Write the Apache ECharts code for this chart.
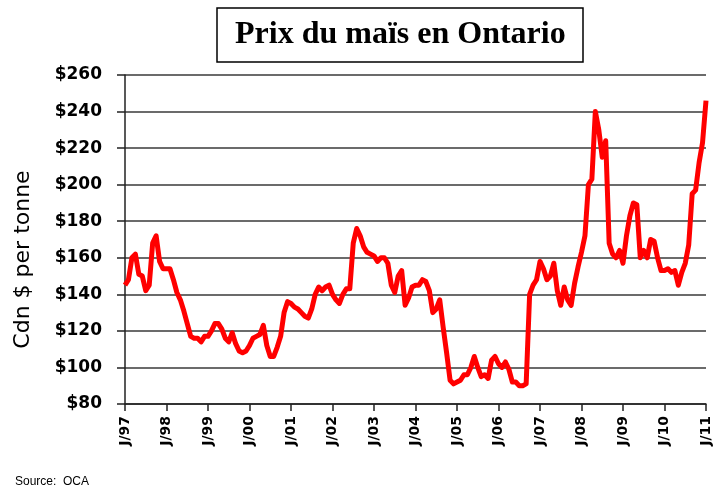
<!DOCTYPE html>
<html>
<head>
<meta charset="utf-8">
<script src="https://cdn.jsdelivr.net/npm/echarts@6/dist/echarts.min.js"></script>
<style>
  html, body { margin: 0; padding: 0; background: #fff; }
  #chart { width: 714px; height: 487px; }
</style>
</head>
<body>
<div id="chart"></div>
<script>
// années affichées sur l'axe des x (un repère par janvier)
var yearLabels = ["97", "98", "99", "00", "01", "02", "03", "04", "05", "06", "07", "08", "09", "10", "11"];
var monthLetters = ["J", "F", "M", "A", "M", "J", "J", "A", "S", "O", "N", "D"];
var yTicks = [80, 100, 120, 140, 160, 180, 200, 220, 240, 260];

// prix mensuel du maïs, $ Cdn par tonne, janv. 1997 -> janv. 2011
var prices = [
  145, 148, 160, 162, 151, 150, 142, 145, 168, 172, 158, 154,
  154, 154, 148, 141, 137, 131, 124, 117, 116, 116, 114, 117,
  117, 120, 124, 124, 121, 116, 114, 119, 113, 109, 108, 109,
  112, 116, 117, 118, 123, 112, 106, 106, 111, 117, 130, 136,
  135, 133, 132, 130, 128, 127, 132, 140, 144, 142, 144, 145,
  140, 137, 135, 140, 143, 143, 168, 176, 172, 166, 163, 162,
  161, 158, 160, 160, 157, 145, 141, 150, 153, 134, 138, 144,
  145, 145, 148, 147, 142, 130, 132, 137, 122, 108, 93, 91,
  92, 93, 96, 96, 100, 106, 100, 95, 96, 94, 104, 106,
  102, 100, 103, 99, 92, 92, 90, 90, 91, 140, 145, 148,
  158, 154, 148, 150, 157, 142, 134, 144, 137, 134, 146, 155,
  163, 172, 200, 203, 240, 230, 215, 224, 168, 162, 160, 164,
  157, 172, 183, 190, 189, 160, 164, 160, 170, 169, 160, 153,
  153, 154, 152, 153, 145, 152, 157, 167, 195, 197, 212, 223,
  246
];

var categories = [];
for (var i = 0; i < prices.length; i++) {
  categories.push(monthLetters[i % 12] + "/" + yearLabels[Math.floor(i / 12)]);
}

var myChart = echarts.init(document.getElementById("chart"));
var option = {
  animation: false,
  backgroundColor: "#fff",
  title: {
    text: "Prix du maïs en Ontario",
    left: 217,
    top: 8,
    padding: [11, 18, 11, 18],
    borderColor: "#000",
    borderWidth: 1.5,
    textStyle: {
      fontFamily: "Liberation Serif",
      fontWeight: "bold",
      fontSize: 32,
      color: "#000"
    }
  },
  grid: {
    left: 125,
    right: 8,
    top: 75,
    bottom: 83
  },
  xAxis: {
    type: "category",
    boundaryGap: false,
    data: categories,
    axisLine: { lineStyle: { color: "#222", width: 1.5 } },
    axisTick: {
      length: 7,
      interval: function (idx) { return idx % 12 === 0; },
      lineStyle: { color: "#222", width: 1.5 }
    },
    axisLabel: {
      rotate: 90,
      margin: 12,
      interval: function (idx) { return idx % 12 === 0; },
      formatter: function (val) { return "J/" + val.split("/")[1]; },
      fontFamily: "DejaVu Sans",
      fontWeight: "bold",
      fontSize: 14,
      color: "#000"
    },
    splitLine: { show: false }
  },
  yAxis: {
    type: "value",
    min: yTicks[0],
    max: yTicks[yTicks.length - 1],
    interval: 20,
    name: "Cdn $ per tonne",
    nameLocation: "middle",
    nameGap: 91,
    nameTextStyle: {
      fontFamily: "DejaVu Sans",
      fontSize: 22,
      color: "#000",
      padding: [0, 40, 0, 0]
    },
    axisLine: { show: true, lineStyle: { color: "#222", width: 1.5 } },
    axisTick: { show: true, length: 8, lineStyle: { color: "#222", width: 1.5 } },
    axisLabel: {
      margin: 23,
      formatter: function (v) { return "$" + v; },
      fontFamily: "DejaVu Sans",
      fontWeight: "bold",
      fontSize: 17,
      color: "#000"
    },
    splitLine: { lineStyle: { color: "#3a3a3a", width: 1.5 } }
  },
  graphic: [
    {
      type: "text",
      left: 15,
      top: 476,
      style: {
        text: "Source:  OCA",
        fontFamily: "Liberation Sans",
        fontSize: 12,
        fill: "#000"
      }
    }
  ],
  series: [
    {
      name: "Prix",
      type: "line",
      data: prices,
      showSymbol: false,
      symbol: "none",
      lineStyle: { color: "#ff0000", width: 5, join: "round" },
      itemStyle: { color: "#ff0000" }
    }
  ]
};
myChart.setOption(option);
</script>
</body>
</html>
